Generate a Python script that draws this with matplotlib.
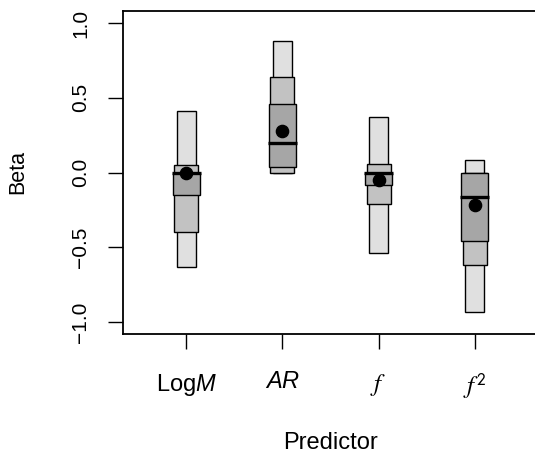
import matplotlib
matplotlib.use("Agg")
import matplotlib.pyplot as plt

# ---- data ----
predictors = ["LogM", "AR", "f", "f2"]
tick_labels = [r"Log$\mathit{M}$", r"$\mathit{AR}$", r"$f$", r"$f^{\mathsf{2}}$"]
light_lo = [-0.63, -0.005, -0.54, -0.93]
light_hi = [0.41, 0.88, 0.37, 0.085]
mid_lo = [-0.40, 0.0, -0.21, -0.62]
mid_hi = [0.05, 0.64, 0.06, -0.005]
dark_lo = [-0.15, 0.04, -0.085, -0.455]
dark_hi = [0.0, 0.455, 0.0, 0.0]
median = [0.0, 0.20, 0.0, -0.165]
mean = [0.0, 0.28, -0.05, -0.22]
yticks = [-1.0, -0.5, 0.0, 0.5, 1.0]
ytick_labels = ["\u22121.0", "\u22120.5", "0.0", "0.5", "1.0"]

plt.rcParams['font.family'] = ['Liberation Sans', 'DejaVu Sans']
plt.rcParams['mathtext.fontset'] = 'custom'
plt.rcParams['mathtext.rm'] = 'Liberation Sans'
plt.rcParams['mathtext.it'] = 'Liberation Sans:italic'
plt.rcParams['mathtext.sf'] = 'Liberation Sans'

fig = plt.figure(figsize=(5.35, 4.54), dpi=100)
ax = fig.add_axes([123/535, 1-334/454, (538-123)/535, (334-11)/454])

x = list(range(1, len(predictors) + 1))
ax.bar(x, [h - l for l, h in zip(light_lo, light_hi)], bottom=light_lo, width=0.2,
       color="#e0e0e0", edgecolor="black", linewidth=1.0, zorder=2)
ax.bar(x, [h - l for l, h in zip(mid_lo, mid_hi)], bottom=mid_lo, width=0.25,
       color="#c2c2c2", edgecolor="black", linewidth=1.0, zorder=3)
ax.bar(x, [h - l for l, h in zip(dark_lo, dark_hi)], bottom=dark_lo, width=0.28,
       color="#a6a6a6", edgecolor="black", linewidth=1.0, zorder=4)
ax.hlines(median, [xi - 0.15 for xi in x], [xi + 0.15 for xi in x],
          colors="black", linewidth=2.4, zorder=5)
ax.plot(x, mean, "o", color="black", markersize=8.8, zorder=6)

ax.set_xlim(0.34, 4.66)
ax.set_ylim(-1.08, 1.08)
ax.set_xticks(x)
ax.set_xticklabels(tick_labels, fontsize=17)
for lbl in ax.get_xticklabels()[2:]:
    lbl.set_math_fontfamily('stix')
    lbl.set_fontsize(18)
ax.set_yticks(yticks)
ax.set_yticklabels(ytick_labels, fontsize=15, rotation=90, va="center")
ax.tick_params(axis="x", length=11, width=1.0, pad=16)
ax.tick_params(axis="y", length=11, width=1.0, pad=12.5)
for s in ax.spines.values():
    s.set_linewidth(1.3)

ax.set_xlabel("Predictor", fontsize=17)
ax.xaxis.set_label_coords(0.5, (334-432)/323)
ax.set_ylabel("Beta", fontsize=15.5)
ax.yaxis.set_label_coords((28-123)/415, 0.5)

fig.savefig("out.png", dpi=100)
